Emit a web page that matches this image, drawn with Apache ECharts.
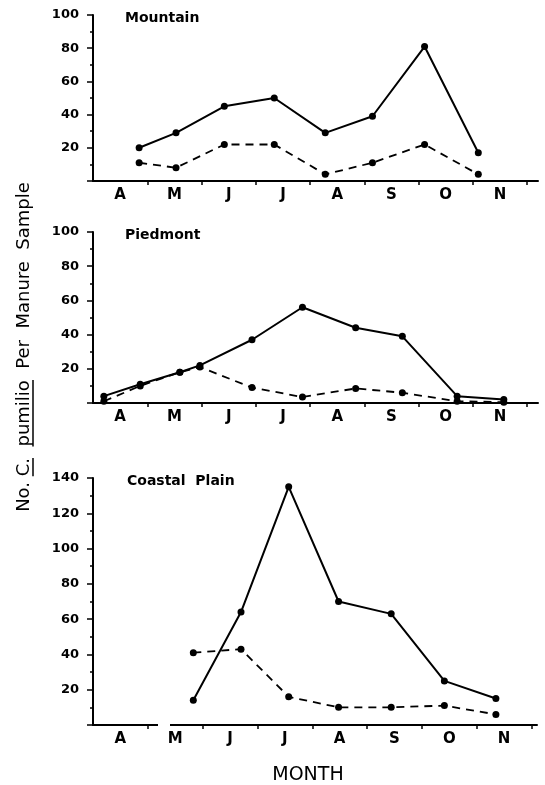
<!DOCTYPE html>
<html>
<head>
<meta charset="utf-8">
<script src="https://cdn.jsdelivr.net/npm/echarts@6/dist/echarts.min.js"></script>
<style>
  html, body { margin: 0; padding: 0; background: #fff; }
  #chart { width: 545px; height: 785px; }
</style>
</head>
<body>
<div id="chart"></div>
<script>
// month letters, one per month slot (Apr..Nov)
var months = ["A", "M", "J", "J", "A", "S", "O", "N"];

// Mountain: position in months from start of April
var mountainX = [0.85, 1.53, 2.42, 3.34, 4.28, 5.15, 6.11, 7.1];
var mountainSolid = [20, 29, 45, 50, 29, 39, 81, 17];
var mountainDashed = [11, 8, 22, 22, 4, 11, 22, 4];

// Piedmont
var piedmontX = [0.2, 0.87, 1.6, 1.97, 2.93, 3.86, 4.84, 5.7, 6.71, 7.57];
var piedmontSolid = [4, 11, 18, 22, 37, 56, 44, 39, 4, 2];
var piedmontDashed = [1, 10, 18, 21, 9, 3.5, 8.5, 6, 1, 0.5];

// Coastal Plain
var coastalX = [1.83, 2.7, 3.57, 4.48, 5.44, 6.41, 7.35];
var coastalSolid = [14, 64, 135, 70, 63, 25, 15];
var coastalDashed = [41, 43, 16, 10, 10, 11, 6];

var yTicksSmall = [20, 40, 60, 80, 100];
var yTicksBig = [20, 40, 60, 80, 100, 120, 140];

var panelTitles = ["Mountain", "Piedmont", "Coastal  Plain"];

function pairs(xs, ys) {
  return xs.map(function (x, i) { return [x, ys[i]]; });
}

var labelPos = months.map(function (m, i) { return i + 0.5; });
var tickPos = months.map(function (m, i) { return i + 1; });
var font = "DejaVu Sans";

function makeX(idx, max) {
  return {
    type: "value",
    gridIndex: idx,
    min: 0,
    max: max,
    splitLine: { show: false },
    axisLine: { onZero: false, lineStyle: { color: "#000", width: 2 } },
    axisTick: { customValues: tickPos, length: 4, lineStyle: { color: "#000", width: 1.5 } },
    axisLabel: {
      customValues: labelPos,
      formatter: function (v) { return months[Math.floor(v)]; },
      color: "#000",
      fontFamily: font,
      fontWeight: "bold",
      fontSize: 15,
      margin: 7,
    },
  };
}

function makeY(idx, max, ticks) {
  return {
    type: "value",
    gridIndex: idx,
    min: 0,
    max: max,
    interval: 20,
    splitLine: { show: false },
    axisLine: { show: true, lineStyle: { color: "#000", width: 2 } },
    axisTick: { show: true, length: 6, lineStyle: { color: "#000", width: 1.5 } },
    minorTick: { show: true, splitNumber: 2, length: 3, lineStyle: { color: "#000", width: 1.5 } },
    axisLabel: {
      customValues: ticks,
      color: "#000",
      fontFamily: font,
      fontWeight: "bold",
      fontSize: 13,
      margin: 14,
    },
  };
}

function line(idx, data, dashed) {
  return {
    type: "line",
    xAxisIndex: idx,
    yAxisIndex: idx,
    data: data,
    symbol: "circle",
    symbolSize: 7,
    itemStyle: { color: "#000" },
    lineStyle: { color: "#000", width: dashed ? 1.8 : 2, type: dashed ? [8, 6] : "solid" },
    animation: false,
  };
}

// y axis title, with C. and pumilio underlined (measured with a canvas)
var yTitleParts = ["No. ", "C.", "  ", "pumilio", "  Per  Manure  Sample"];
var yTitleSize = 18;
var ctx = document.createElement("canvas").getContext("2d");
ctx.font = yTitleSize + "px " + font;
var partW = yTitleParts.map(function (p) { return ctx.measureText(p).width; });
var totalW = partW.reduce(function (a, b) { return a + b; }, 0);
function underline(partIdx) {
  var start = -totalW / 2;
  for (var i = 0; i < partIdx; i++) start += partW[i];
  return {
    type: "line",
    shape: { x1: start, y1: 9, x2: start + partW[partIdx], y2: 9 },
    style: { stroke: "#000", lineWidth: 1.5 },
  };
}

var chart = echarts.init(document.getElementById("chart"));
chart.setOption({
  backgroundColor: "#fff",
  animation: false,
  grid: [
    { left: 93, top: 15, width: 445, height: 166 },
    { left: 93, top: 232, width: 445, height: 171 },
    { left: 93, top: 478, width: 444, height: 247 },
  ],
  xAxis: [makeX(0, 8.2), makeX(1, 8.2), makeX(2, 8.1)],
  yAxis: [makeY(0, 100, yTicksSmall), makeY(1, 100, yTicksSmall), makeY(2, 140, yTicksBig)],
  title: [
    { text: panelTitles[0], left: 125, top: 11 },
    { text: panelTitles[1], left: 125, top: 228 },
    { text: panelTitles[2], left: 127, top: 474 },
  ].map(function (t) {
    t.textStyle = { color: "#000", fontFamily: font, fontWeight: "bold", fontSize: 14 };
    t.padding = 0;
    return t;
  }),
  graphic: [
    {
      type: "group",
      x: 24,
      y: 347,
      rotation: Math.PI / 2,
      children: [
        {
          type: "text",
          style: {
            text: yTitleParts.join(""),
            font: yTitleSize + "px " + font,
            fill: "#000",
            align: "center",
            verticalAlign: "middle",
          },
        },
        underline(1),
        underline(3),
      ],
    },
    {
      // small break in the bottom axis between A and M
      type: "rect",
      shape: { x: 158, y: 722, width: 12, height: 6 },
      style: { fill: "#fff" },
      z: 100,
    },
    {
      type: "text",
      x: 308,
      y: 775,
      style: {
        text: "MONTH",
        fontFamily: font,
        fontSize: 19,
        fill: "#000",
        align: "center",
        verticalAlign: "middle",
      },
    },
  ],
  series: [
    line(0, pairs(mountainX, mountainSolid), false),
    line(0, pairs(mountainX, mountainDashed), true),
    line(1, pairs(piedmontX, piedmontSolid), false),
    line(1, pairs(piedmontX, piedmontDashed), true),
    line(2, pairs(coastalX, coastalSolid), false),
    line(2, pairs(coastalX, coastalDashed), true),
  ],
});
</script>
</body>
</html>
